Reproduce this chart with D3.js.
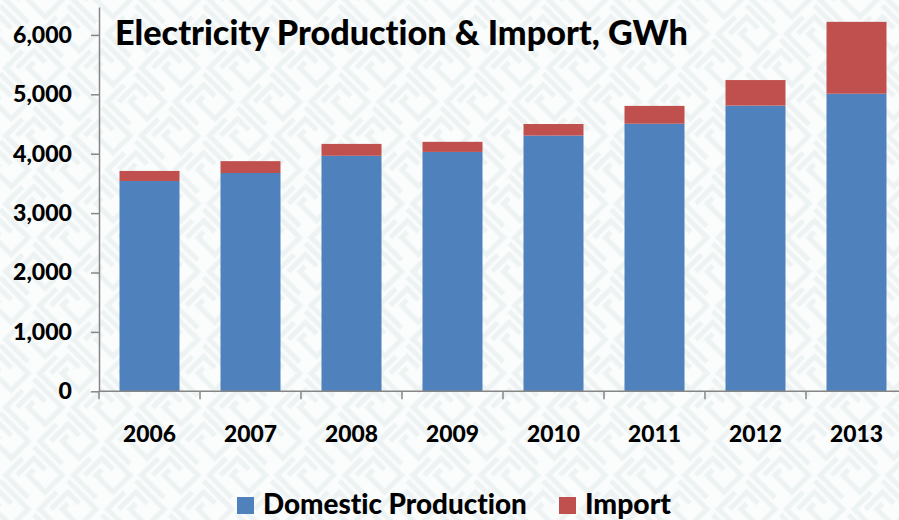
<!DOCTYPE html>
<html>
<head>
<meta charset="utf-8">
<script src="https://cdn.jsdelivr.net/npm/d3@7"></script>
<style>
  body { margin: 0; background: #fff; }
  svg { display: block; font-family: Lato, "Open Sans", sans-serif; font-weight: 900; font-variant-ligatures: none; }
</style>
</head>
<body>
<div id="chart"></div>
<script>
var years = ["2006", "2007", "2008", "2009", "2010", "2011", "2012", "2013"];
var domestic = [3540, 3675, 3965, 4030, 4305, 4505, 4810, 5010];
var imports = [170, 200, 200, 170, 195, 300, 430, 1210];
var yTicks = [0, 1000, 2000, 3000, 4000, 5000, 6000];
var seriesNames = ["Domestic Production", "Import"];
var colors = ["#4F81BD", "#C0504D"];

var width = 899, height = 520;
var svg = d3.select('#chart').append('svg').attr('width', width).attr('height', height);

// faint maze-like background
var defs = svg.append('defs');
var pat = defs.append('pattern')
    .attr('id', 'maze')
    .attr('patternUnits', 'userSpaceOnUse')
    .attr('width', 48).attr('height', 48)
    .attr('patternTransform', 'rotate(45)');
pat.append('rect').attr('width', 48).attr('height', 48).attr('fill', '#fbfdfd');
pat.append('path')
    .attr('d', 'M4 4 H44 V28 H20 V20 M4 20 V44 H36 M28 12 H12 V36')
    .attr('fill', 'none')
    .attr('stroke', '#edf2f3')
    .attr('stroke-width', 5);
svg.append('rect').attr('width', width).attr('height', height).attr('fill', 'url(#maze)');

function fitFont(sel, target, base) {
    sel.attr('font-size', base);
    var w = sel.node().getComputedTextLength();
    return base * target / w;
}

var x = d3.scaleBand().domain(years).range([99, 907]).paddingInner(0.406).paddingOuter(0.203);
var y = d3.scaleLinear().domain([0, 6470]).range([391.3, 7]);

// bars
var stacked = years.map(function(yr, i) {
    return { year: yr, d: domestic[i], m: imports[i] };
});
var bars = svg.append('g');
bars.selectAll('rect.dom')
    .data(stacked)
    .enter()
    .append('rect')
    .attr('x', function(d) { return x(d.year); })
    .attr('width', x.bandwidth())
    .attr('y', function(d) { return y(d.d); })
    .attr('height', function(d) { return y(0) - y(d.d); })
    .attr('fill', colors[0]);
bars.selectAll('rect.imp')
    .data(stacked)
    .enter()
    .append('rect')
    .attr('x', function(d) { return x(d.year); })
    .attr('width', x.bandwidth())
    .attr('y', function(d) { return y(d.d + d.m); })
    .attr('height', function(d) { return y(d.d) - y(d.d + d.m); })
    .attr('fill', colors[1]);

// y axis
var yAxis = svg.append('g')
    .attr('transform', 'translate(99,0)')
    .call(d3.axisLeft(y).tickValues(yTicks).tickFormat(d3.format(',')).tickSize(8).tickSizeOuter(0).tickPadding(19));
yAxis.select('.domain').attr('stroke', '#868686').attr('stroke-width', 1.5);
yAxis.selectAll('.tick line').attr('stroke', '#868686').attr('stroke-width', 1.5);
yAxis.attr('font-family', null).attr('font-size', null);
var yLabels = yAxis.selectAll('.tick text').attr('fill', '#000');
var ySize = fitFont(yAxis.select('.tick:last-of-type text'), 59, 18);
yLabels.attr('font-size', ySize);

// x axis
svg.append('line')
    .attr('x1', 99).attr('x2', width)
    .attr('y1', y(0)).attr('y2', y(0))
    .attr('stroke', '#868686').attr('stroke-width', 1.5);
svg.append('g').selectAll('line')
    .data(years)
    .enter()
    .append('line')
    .attr('x1', function(d) { return x(d) + x.bandwidth() / 2 - x.step() / 2; })
    .attr('x2', function(d) { return x(d) + x.bandwidth() / 2 - x.step() / 2; })
    .attr('y1', y(0)).attr('y2', y(0) + 8)
    .attr('stroke', '#868686').attr('stroke-width', 1.5);
var xLabels = svg.append('g').selectAll('text')
    .data(years)
    .enter()
    .append('text')
    .attr('x', function(d) { return x(d) + x.bandwidth() / 2; })
    .attr('y', 442)
    .attr('text-anchor', 'middle')
    .text(function(d) { return d; });
var xSize = fitFont(xLabels.filter(function(d, i) { return i === 0; }), 53, 20);
xLabels.attr('font-size', xSize);

// title
var title = svg.append('text')
    .attr('x', 115).attr('y', 45)
    .text('Electricity Production & Import, GWh');
title.attr('font-size', fitFont(title, 573, 30));

// legend
var legendX = [237, 559];
var legendW = [264, 86];
var legend = svg.append('g').selectAll('g')
    .data(seriesNames)
    .enter()
    .append('g')
    .attr('transform', function(d, i) { return 'translate(' + legendX[i] + ',0)'; });
legend.append('rect')
    .attr('y', 497).attr('width', 17).attr('height', 17)
    .attr('fill', function(d, i) { return colors[i]; });
legend.append('text')
    .attr('x', 26).attr('y', 514)
    .text(function(d) { return d; })
    .each(function(d, i) {
        var t = d3.select(this);
        t.attr('font-size', fitFont(t, legendW[i], 26));
    });
</script>
</body>
</html>
